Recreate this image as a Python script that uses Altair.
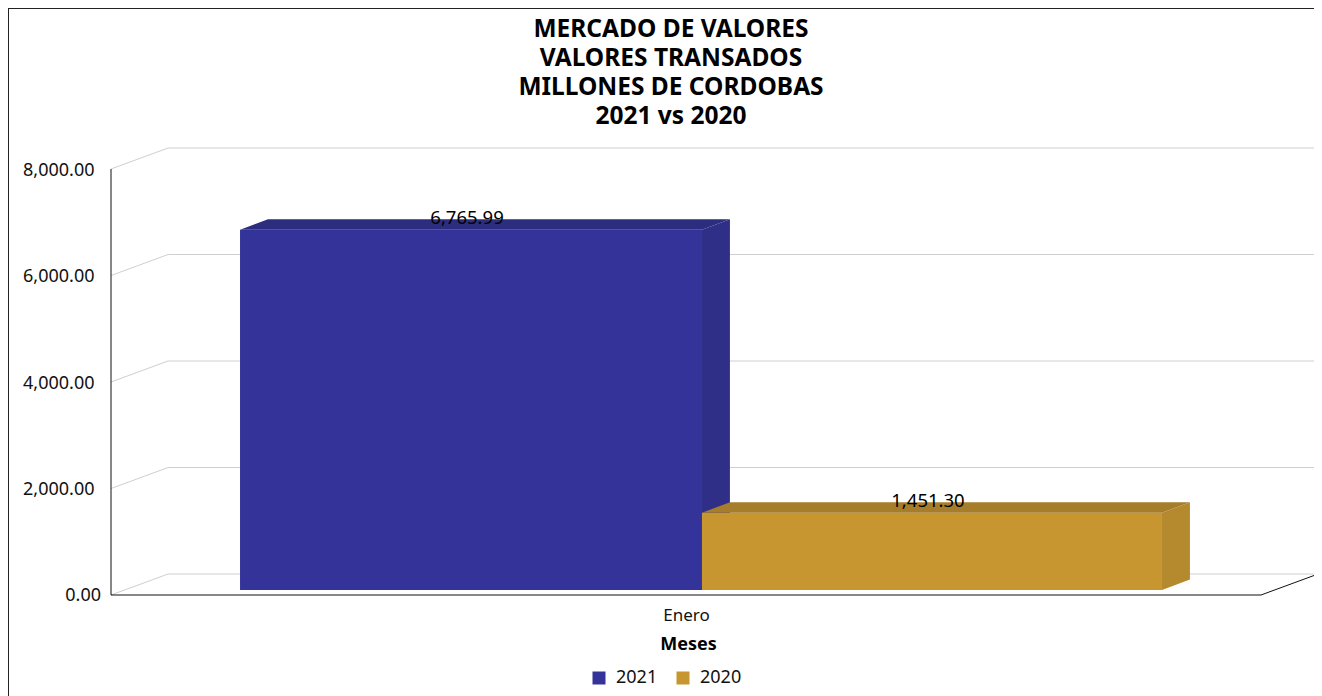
import altair as alt
import pandas as pd

TITLE_LINES = ["MERCADO DE VALORES", "VALORES TRANSADOS", "MILLONES DE CORDOBAS", "2021 vs 2020"]
SERIES = ["2021", "2020"]
VALUES = [6765.99, 1451.30]
FRONT = ["#333399", "#C79631"]
TOP = ["#2D2D80", "#A67D2B"]
SIDE = ["#2F2F87", "#B58A2E"]
TICKS = [0, 2000, 4000, 6000, 8000]
CATEGORY = "Enero"
X_TITLE = "Meses"

# Bar edges as shares of the x axis
BAR_EDGES = [0.1122, 0.5139, 0.9139]
FONT = "Noto Sans"

# Fake-3D depth, in axis units
BACK_X, BACK_Y = 0.0496, 394
DEPTH_X, DEPTH_Y = 0.0243, 197
BASE_Y = 94
X_DOM = [-0.08957, 1.04609]
Y_DOM = [-1896.7, 11023.5]

x_s = alt.Scale(domain=X_DOM, nice=False, zero=False)
y_s = alt.Scale(domain=Y_DOM, nice=False, zero=False)

label_expr = "datum.value == 0 ? '' : format(datum.value, ',.2f')"
y_axis = alt.Axis(values=TICKS, labelExpr=label_expr, domain=False, ticks=False, grid=False,
                  offset=-103, labelPadding=17, labelFont=FONT, labelFontSize=18, labelOffset=1,
                  labelColor="#111111", labelBaseline="middle", title=None)
x_axis = alt.Axis(values=[0.5], labelExpr=f"'{CATEGORY}'", domain=False, ticks=False, grid=False,
                  offset=-93, labelPadding=4, labelFont=FONT, labelFontSize=17, labelColor="#111111",
                  title=X_TITLE, titleFont=FONT, titleFontSize=18, titleFontWeight="bold",
                  titleColor="#000000", titlePadding=12, titleX=680)


def X(f="x"):
    return alt.X(f"{f}:Q", scale=x_s, axis=x_axis)


def Y(f="y"):
    return alt.Y(f"{f}:Q", scale=y_s, axis=y_axis)


# outer frame
frame_left = alt.Chart(pd.DataFrame([dict(x=X_DOM[0], y=Y_DOM[0], y2=Y_DOM[1])])).mark_rule(
    color="#222222", strokeWidth=2).encode(x=X(), y=Y(), y2="y2:Q")
frame_top = alt.Chart(pd.DataFrame([dict(x=X_DOM[0], x2=X_DOM[1], y=Y_DOM[1])])).mark_rule(
    color="#222222", strokeWidth=2).encode(x=X(), x2="x2:Q", y=Y())

# value axis line
y_line = alt.Chart(pd.DataFrame([dict(x=0, y=TICKS[0], y2=TICKS[-1])])).mark_rule(
    color="#111111", strokeWidth=1).encode(x=X(), y=Y(), y2="y2:Q")

# back grid
grid_rows = []
for t in TICKS:
    grid_rows += [dict(t=t, x=0, y=t), dict(t=t, x=BACK_X, y=t + BACK_Y), dict(t=t, x=X_DOM[1], y=t + BACK_Y)]
grid = alt.Chart(pd.DataFrame(grid_rows)).mark_line(color="#CFCFCF", strokeWidth=1).encode(
    x=X(), y=Y(), detail="t:N", order="x:Q")

floor_df = pd.DataFrame([dict(x=0, y=0), dict(x=1, y=0), dict(x=1 + BACK_X, y=BACK_Y)])
floor = alt.Chart(floor_df).mark_line(color="#111111", strokeWidth=1, clip=True).encode(x=X(), y=Y(), order="x:Q")

zero_label = alt.Chart(pd.DataFrame([dict(x=0, y=TICKS[0], s=f"{TICKS[0]:,.2f}")])).mark_text(
    font=FONT, fontSize=18, color="#111111", align="right", baseline="middle", dx=-10, dy=1
).encode(x=X(), y=Y(), text="s:N")

# bars
layers = [frame_left, frame_top, grid, y_line, floor, zero_label]
label_rows = []
for i, (s, v) in enumerate(zip(SERIES, VALUES)):
    a, b = BAR_EDGES[i], BAR_EDGES[i + 1]
    lo, hi = BASE_Y, BASE_Y + v
    side = pd.DataFrame([dict(x=b, y=lo, y2=hi), dict(x=b + DEPTH_X, y=lo + DEPTH_Y, y2=hi + DEPTH_Y)])
    top = pd.DataFrame([dict(x=a, y=hi, y2=hi), dict(x=a + DEPTH_X, y=hi, y2=hi + DEPTH_Y),
                        dict(x=b, y=hi, y2=hi + DEPTH_Y), dict(x=b + DEPTH_X, y=hi + DEPTH_Y, y2=hi + DEPTH_Y)])
    layers.append(alt.Chart(side).mark_area(color=SIDE[i], orient="vertical").encode(x=X(), y=Y(), y2="y2:Q"))
    front = pd.DataFrame([dict(x=a, x2=b, y=lo, y2=hi, series=s)])
    layers.append(alt.Chart(front).mark_rect().encode(
        x=X(), x2="x2:Q", y=Y(), y2="y2:Q",
        color=alt.Color("series:N", scale=alt.Scale(domain=SERIES, range=FRONT),
                        legend=alt.Legend(title=None, orient="none", legendX=582, legendY=661,
                                          direction="horizontal", symbolType="square", symbolSize=169,
                                          symbolStrokeWidth=0, labelFont=FONT, labelFontSize=18,
                                          labelColor="#111111", columnPadding=16, labelOffset=8))))
    layers.append(alt.Chart(top).mark_area(color=TOP[i], orient="vertical").encode(x=X(), y=Y(), y2="y2:Q"))
    label_rows.append(dict(x=(a + b) / 2, y=hi + DEPTH_Y, s=f"{v:,.2f}"))

labels = alt.Chart(pd.DataFrame(label_rows)).mark_text(
    font=FONT, fontSize=18.5, color="#000000", baseline="middle", dx=-4, dy=-1
).encode(x=X(), y=Y(), text="s:N")
layers.append(labels)

chart = alt.layer(*layers).properties(
    width=1306, height=688, padding=0,
    autosize=alt.AutoSizeParams(type="none"),
    title=alt.TitleParams(text=TITLE_LINES, font=FONT, fontSize=24.5, fontWeight="bold", color="#000000",
                          anchor="middle", frame="group", baseline="bottom", lineHeight=29, offset=-146, dx=10),
).configure_view(stroke=None)

chart.save("out.html", embed_options={"renderer": "svg", "actions": False})
